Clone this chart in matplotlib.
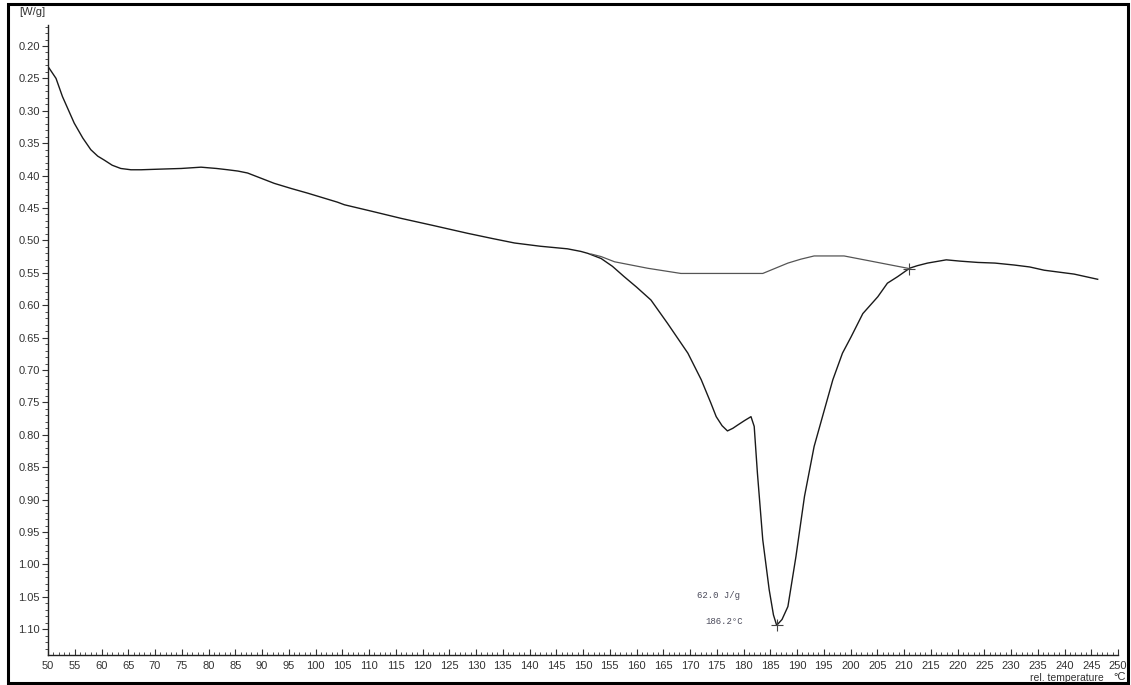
import matplotlib
matplotlib.use("Agg")
import matplotlib.pyplot as plt
from matplotlib.patches import Rectangle
from matplotlib.ticker import MultipleLocator, FormatStrFormatter

# DSC heat-flow curve (temperature in °C, heat flow in W/g)
temp = [50.2, 51.5, 52.7, 54.9, 56.5, 58.0, 59.3, 60.5, 62.0, 63.6, 65.5, 67.4,
        71.0, 74.9, 78.6, 81.5, 83.6, 85.5, 87.3, 89.8, 92.3, 95.5, 98.5,
        104.1, 105.4, 110.5, 116.0, 122.0, 128.4, 133.0, 137.2, 142.0, 147.1,
        149.6, 150.9, 153.4, 155.5, 157.7, 160.0, 162.7, 165.8, 169.6, 172.1,
        173.9, 174.9, 176.0, 177.0, 178.0, 178.9, 180.2, 181.4, 182.0, 182.6,
        183.6, 184.8, 185.6, 186.2, 187.2, 188.3, 189.8, 191.4, 193.2, 195.1,
        196.7, 198.5, 200.1, 202.3, 205.1, 206.9, 208.8, 210.7, 211.0, 212.5,
        214.4, 217.9, 220.5, 223.8, 227.0, 230.6, 233.5, 236.2, 239.0, 241.8,
        244.0, 246.2]
heat_flow = [0.234, 0.250, 0.278, 0.319, 0.342, 0.360, 0.370, 0.376, 0.384, 0.389,
             0.391, 0.391, 0.390, 0.389, 0.387, 0.389, 0.391, 0.393, 0.396, 0.404,
             0.412, 0.420, 0.427, 0.441, 0.445, 0.455, 0.466, 0.477, 0.489, 0.497,
             0.504, 0.509, 0.513, 0.517, 0.520, 0.528, 0.540, 0.556, 0.572, 0.592,
             0.628, 0.674, 0.715, 0.751, 0.772, 0.786, 0.794, 0.790, 0.785, 0.778,
             0.772, 0.787, 0.859, 0.962, 1.039, 1.078, 1.094, 1.085, 1.065, 0.988,
             0.895, 0.818, 0.762, 0.715, 0.674, 0.649, 0.613, 0.587, 0.566, 0.556,
             0.545, 0.543, 0.539, 0.535, 0.530, 0.532, 0.534, 0.535, 0.538, 0.541,
             0.546, 0.549, 0.552, 0.556, 0.560]

# Integration baseline under the melting peak
base_temp = [151.5, 153.4, 155.9, 162.1, 168.3, 183.6, 188.3, 190.7, 193.2,
             198.8, 203.2, 210.7, 211.0]
base_flow = [0.521, 0.525, 0.533, 0.543, 0.551, 0.551, 0.535, 0.529, 0.524,
             0.524, 0.531, 0.543, 0.544]

peak_temp, peak_flow = 186.2, 1.094
end_temp, end_flow = 211.0, 0.544
enthalpy_label = "62.0 J/g"
peak_label = "186.2°C"

W, H = 1131, 685
fig = plt.figure(figsize=(W / 100, H / 100), dpi=100)
ax = fig.add_axes([48 / W, 1 - 655 / H, (1118 - 48) / W, (655 - 25) / H])

tick_font = ["Liberation Sans Narrow", "Liberation Sans", "DejaVu Sans"]

ax.plot(temp, heat_flow, color="#1a1a1a", lw=1.0)
ax.plot(base_temp, base_flow, color="#555555", lw=0.9)
ax.plot([peak_temp, end_temp], [peak_flow, end_flow], linestyle="none",
        marker="+", markersize=9, mew=0.8, color="#444444")

ax.set_xlim(50, 250)
ax.set_ylim(1.1398, 0.1676)

ax.xaxis.set_major_locator(MultipleLocator(5))
ax.xaxis.set_minor_locator(MultipleLocator(1))
ax.yaxis.set_major_locator(MultipleLocator(0.05))
ax.yaxis.set_minor_locator(MultipleLocator(0.01))
ax.yaxis.set_major_formatter(FormatStrFormatter("%.2f"))
ax.xaxis.set_major_formatter(FormatStrFormatter("%d"))

for s in ("top", "right"):
    ax.spines[s].set_visible(False)
for s in ("left", "bottom"):
    ax.spines[s].set_linewidth(1.0)
    ax.spines[s].set_color("#222222")

ax.tick_params(axis="x", which="major", direction="in", length=4, width=0.8,
               pad=4, labelsize=8, colors="#333333")
ax.tick_params(axis="x", which="minor", direction="in", length=2.5, width=0.6,
               colors="#333333")
ax.tick_params(axis="y", which="major", direction="out", length=4, width=0.8,
               pad=2, labelsize=8, colors="#333333")
ax.tick_params(axis="y", which="minor", direction="out", length=2, width=0.6,
               colors="#333333")
for lab in ax.get_xticklabels() + ax.get_yticklabels():
    lab.set_family(tick_font)

# Peak annotations
ax.text(697 / W, 1 - 595 / H, enthalpy_label, transform=fig.transFigure,
        family=["Liberation Mono", "DejaVu Sans Mono"], fontsize=6.5,
        color="#4a4a5a", va="center", ha="left")
ax.text(705 / W, 1 - 621 / H, peak_label, transform=fig.transFigure,
        family=["Liberation Mono", "DejaVu Sans Mono"], fontsize=6.5,
        color="#4a4a5a", va="center", ha="left")

# Unit labels
fig.text(19 / W, 1 - 12 / H, "[W/g]", family=tick_font, fontsize=8,
         color="#333333", va="center", ha="left")
fig.text(1030 / W, 1 - 678 / H, "rel. temperature", family=tick_font,
         fontsize=7.5, color="#333333", va="center", ha="left")
fig.text(1126 / W, 1 - 677 / H, "°C", family=tick_font, fontsize=8,
         color="#333333", va="center", ha="right")

# Frame around the whole plot
fig.patches.append(Rectangle((8 / W, 1 - 683 / H), (1128 - 8) / W, (683 - 4) / H,
                             transform=fig.transFigure, fill=False,
                             edgecolor="black", linewidth=2.2))

fig.savefig("out.png", dpi=100)
